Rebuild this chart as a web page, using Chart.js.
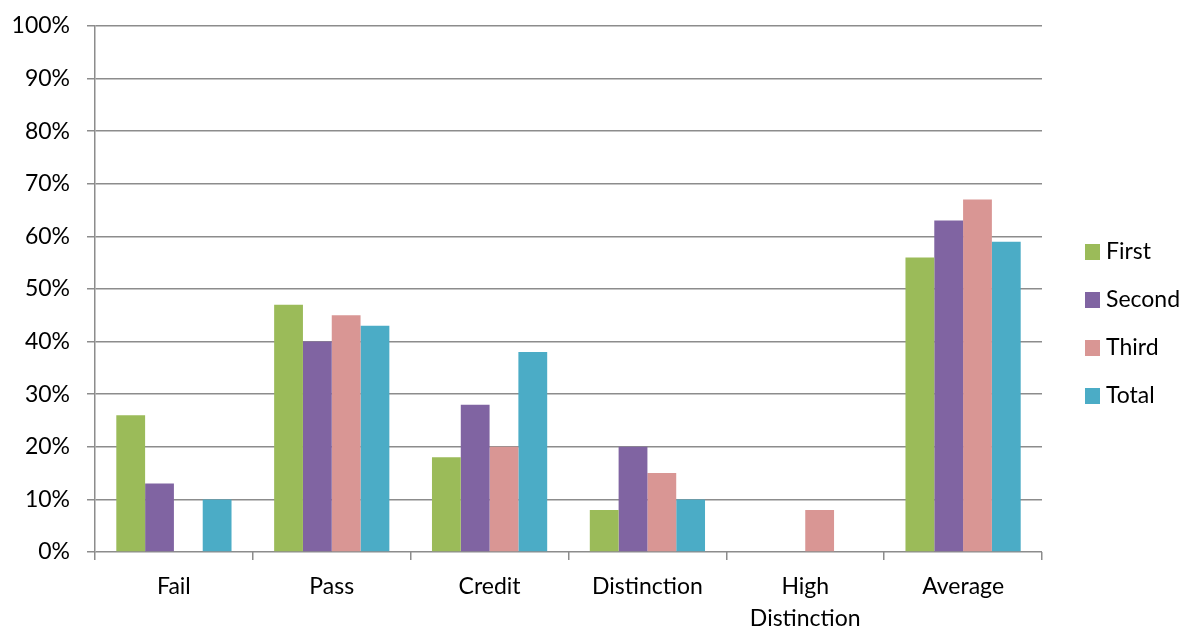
<!DOCTYPE html>
<html>
<head>
<meta charset="utf-8">
<script src="https://cdn.jsdelivr.net/npm/chart.js@4.4.0/dist/chart.umd.min.js"></script>
<style>
  html, body { margin: 0; padding: 0; background: #fff; }
  #wrap { position: relative; width: 1187px; height: 630px; }
  #legend { position: absolute; left: 1085px; top: 236px; font-family: Lato, sans-serif; font-size: 23px; color: #000; }
  .item { height: 48px; display: flex; align-items: flex-start; }
  .box { width: 15px; height: 16px; margin-top: 8px; margin-right: 6px; }
</style>
</head>
<body>
<div id="wrap">
  <canvas id="chart" width="1187" height="630"></canvas>
  <div id="legend"></div>
</div>
<script>
// Datos
const categorias = ['Fail', 'Pass', 'Credit', 'Distinction', ['High', 'Distinction'], 'Average'];
const first  = [26, 47, 18, 8, 0, 56];
const second = [13, 40, 28, 20, 0, 63];
const third  = [0, 45, 20, 15, 8, 67];
const total  = [10, 43, 38, 10, 0, 59];
const series = ['First', 'Second', 'Third', 'Total'];
const colores = ['#9BBB59', '#8064A2', '#D99694', '#4BACC6'];

const gridColor = '#8c8c8c';
const font = { family: 'Lato, sans-serif', size: 23, lineHeight: 1.42 };

const datasets = [first, second, third, total].map((d, i) => ({
  label: series[i],
  data: d,
  backgroundColor: colores[i],
  borderWidth: 0,
  categoryPercentage: 0.73,
  barPercentage: 1.0
}));

new Chart(document.getElementById('chart'), {
  type: 'bar',
  data: { labels: categorias, datasets },
  options: {
    responsive: false,
    animation: false,
    layout: { padding: { left: 0, right: 145, top: 26, bottom: 0 } },
    plugins: { legend: { display: false }, tooltip: { enabled: false } },
    scales: {
      x: {
        grid: { drawOnChartArea: false, drawTicks: true, tickLength: 8, color: gridColor, lineWidth: 1.5 },
        border: { display: false },
        ticks: { color: '#000', font, padding: 10, maxRotation: 0, autoSkip: false },
        afterFit: s => { s.height = 78; s.paddingLeft = 0; s.paddingRight = 0; }
      },
      y: {
        min: 0, max: 100,
        grid: { color: gridColor, lineWidth: 1.5, tickLength: 8 },
        border: { display: true, color: gridColor, width: 1.5 },
        ticks: { stepSize: 10, color: '#000', font, padding: 17, callback: v => v + '%' },
        afterFit: s => { s.width = 95; s.paddingTop = 0; s.paddingBottom = 0; }
      }
    }
  }
});

// Leyenda
const leg = document.getElementById('legend');
series.forEach((s, i) => {
  const it = document.createElement('div'); it.className = 'item';
  const b = document.createElement('div'); b.className = 'box'; b.style.background = colores[i];
  const t = document.createElement('span'); t.textContent = s;
  it.appendChild(b); it.appendChild(t); leg.appendChild(it);
});
</script>
</body>
</html>
